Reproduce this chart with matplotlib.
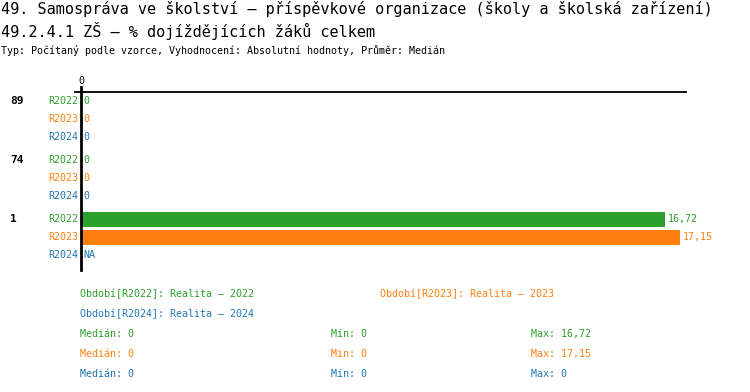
import numpy as np
import matplotlib
matplotlib.use('Agg')
import matplotlib.pyplot as plt
from matplotlib.lines import Line2D

# data
groups = ['89', '74', '1']
periods = ['R2022', 'R2023', 'R2024']
r2022 = [0, 0, 16.72]
r2023 = [0, 0, 17.15]
r2024 = [0, 0, np.nan]
legend_names = ['Období[R2022]: Realita – 2022',
                'Období[R2023]: Realita – 2023',
                'Období[R2024]: Realita – 2024']
colors = ['#2ca02c', '#ff7f0e', '#1f77b4']

title1 = '49. Samospráva ve školství – příspěvkové organizace (školy a školská zařízení)'
title2 = '49.2.4.1 ZŠ – % dojíždějících žáků celkem'
subtitle = 'Typ: Počítaný podle vzorce, Vyhodnocení: Absolutní hodnoty, Průměr: Medián'

W, H = 750, 392
FONT = 'DejaVu Sans Mono'


def fx(px):
    return px / W


def fy(py):
    return 1 - py / H


def fmt(v):
    if np.isnan(v):
        return 'NA'
    return f'{v:g}'.replace('.', ',')


fig = plt.figure(figsize=(W / 100, H / 100), dpi=100)
fig.patch.set_facecolor('white')

# plot area in pixel units (y grows down)
left, right, top, bottom = 81, 686, 92, 270
ax = fig.add_axes([fx(left), fy(bottom), fx(right - left), (bottom - top) / H])
ax.set_xlim(0, 17.33)
ax.set_ylim(bottom, top)
ax.axis('off')

series = [r2022, r2023, r2024]
for g, name in enumerate(groups):
    ybase = 101 + g * 59
    fig.text(fx(10), fy(ybase), name, fontsize=8, fontweight='bold',
             family=FONT, va='center', ha='left')
    for r, vals in enumerate(series):
        y = ybase + r * 18
        v = vals[g]
        fig.text(fx(78), fy(y), periods[r], fontsize=7.2, family=FONT,
                 color=colors[r], va='center', ha='right')
        if not np.isnan(v) and v > 0:
            ax.barh(y, v, height=15, color=colors[r], left=0)
        ax.annotate(fmt(v), xy=(0 if np.isnan(v) else v, y), xytext=(2, 0),
                    textcoords='offset points', fontsize=7.2, family=FONT,
                    color=colors[r], va='center', ha='left', annotation_clip=False)

# axis lines
fig.add_artist(Line2D([fx(75), fx(686)], [fy(92), fy(92)], color='black', lw=1.3))
fig.add_artist(Line2D([fx(81), fx(81)], [fy(87), fy(270)], color='black', lw=2))
fig.text(fx(81), fy(81), '0', fontsize=7.2, family=FONT, ha='center', va='center')

# titles
fig.text(fx(1), fy(9), title1, fontsize=11, family=FONT, va='center', ha='left')
fig.text(fx(1), fy(31), title2, fontsize=11, family=FONT, va='center', ha='left')
fig.text(fx(1), fy(50), subtitle, fontsize=7.2, family=FONT, va='center', ha='left')

# legend
fig.text(fx(80), fy(294), legend_names[0], fontsize=7.2, family=FONT, color=colors[0], va='center')
fig.text(fx(380), fy(294), legend_names[1], fontsize=7.2, family=FONT, color=colors[1], va='center')
fig.text(fx(80), fy(314), legend_names[2], fontsize=7.2, family=FONT, color=colors[2], va='center')

for r, vals in enumerate(series):
    y = 334 + r * 20
    med = np.nanmedian(vals)
    mn = np.nanmin(vals)
    mx = np.nanmax(vals)
    fig.text(fx(80), fy(y), 'Medián: ' + fmt(med), fontsize=7.2, family=FONT, color=colors[r], va='center')
    fig.text(fx(331), fy(y), 'Min: ' + fmt(mn), fontsize=7.2, family=FONT, color=colors[r], va='center')
    fig.text(fx(531), fy(y), 'Max: ' + fmt(mx), fontsize=7.2, family=FONT, color=colors[r], va='center')

fig.savefig('out.png', dpi=100)
